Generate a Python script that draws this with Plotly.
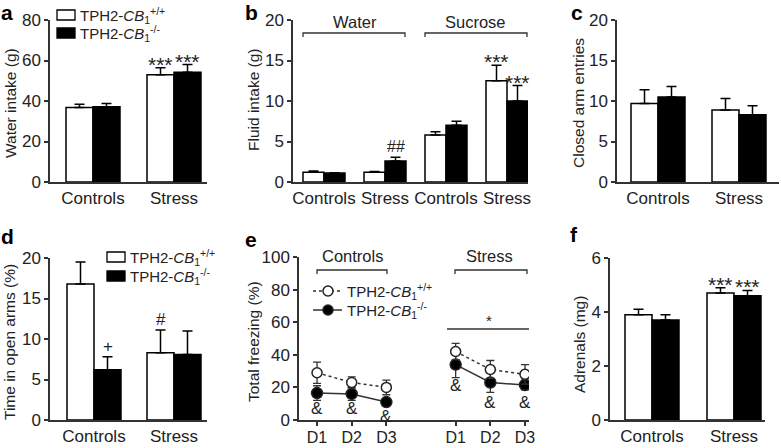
import plotly.graph_objects as go

W, H = 781, 448
FONT = "Liberation Sans, Arial, sans-serif"
TXT = "#222222"

# ---------------- data ----------------
groups = ["Controls", "Stress"]
# a: water intake (g)
a_wt = [36.8, 53.0]; a_wt_err = [1.6, 3.4]
a_ko = [37.2, 54.2]; a_ko_err = [1.6, 3.8]
# b: fluid intake (g)  water(ctrl, stress), sucrose(ctrl, stress)
b_cats = ["Controls", "Stress", "Controls", "Stress"]
b_wt = [1.2, 1.2, 5.8, 12.5]; b_wt_err = [0.15, 0.1, 0.4, 1.9]
b_ko = [1.1, 2.6, 7.0, 10.0]; b_ko_err = [0.05, 0.45, 0.5, 1.9]
# c: closed arm entries
c_wt = [9.7, 8.9]; c_wt_err = [1.7, 1.4]
c_ko = [10.5, 8.3]; c_ko_err = [1.3, 1.1]
# d: time in open arms (%)
d_wt = [16.8, 8.3]; d_wt_err = [2.7, 2.8]
d_ko = [6.2, 8.1]; d_ko_err = [1.6, 2.9]
# e: total freezing (%)
e_days = ["D1", "D2", "D3"]
e_ctrl_wt = [29, 23, 20]; e_ctrl_wt_err = [6.5, 3.5, 4.5]
e_ctrl_ko = [16.5, 16, 11]; e_ctrl_ko_err = [4.5, 4, 2]
e_str_wt = [42, 31, 28]; e_str_wt_err = [5, 5.5, 6]
e_str_ko = [34, 23, 21.5]; e_str_ko_err = [8, 6, 3]
# f: adrenals (mg)
f_wt = [3.9, 4.7]; f_wt_err = [0.2, 0.2]
f_ko = [3.7, 4.6]; f_ko_err = [0.2, 0.2]

WT_NAME = "TPH2-<i>CB</i><sub>1</sub><sup>+/+</sup>"
KO_NAME = "TPH2-<i>CB</i><sub>1</sub><sup>-/-</sup>"

TICK = 17
TITLE = 15.5
STAR = 21


def fx(p):
    return p / W


def fy(p):
    return 1 - p / H


fig = go.Figure()

panels = {
    "a": dict(x0=50, x1=207, yt=20, yb=182, centres=[93, 174], bw=27, yr=[0, 80], dt=20),
    "b": dict(x0=293, x1=528, yt=20, yb=182, centres=[324, 385, 445, 507], bw=21, yr=[0, 20], dt=5),
    "c": dict(x0=617, x1=779, yt=20, yb=182, centres=[658, 739], bw=27, yr=[0, 20], dt=5),
    "d": dict(x0=50, x1=207, yt=258, yb=420, centres=[94, 174], bw=27, yr=[0, 20], dt=5),
    "f": dict(x0=610, x1=765, yt=258, yb=420, centres=[652, 734], bw=27, yr=[0, 6], dt=2),
}
axis_ids = {"a": "", "b": "2", "c": "3", "d": "4", "e": "5", "f": "6"}

annotations = []
shapes = []


def ann(text, x, y, size=14, xref="paper", yref="paper", xanchor="center", yanchor="middle",
        angle=0, bold=False, yshift=0, color=TXT):
    if bold:
        text = "<b>" + text + "</b>"
    annotations.append(dict(text=text, x=x, y=y, xref=xref, yref=yref, xanchor=xanchor,
                            yanchor=yanchor, textangle=angle, showarrow=False, yshift=yshift,
                            font=dict(family=FONT, size=size, color=color)))


def axis_common():
    return dict(showline=True, linecolor="#333333", linewidth=1.5, showgrid=False, zeroline=False,
                automargin=False, tickfont=dict(family=FONT, size=TICK, color=TXT))


def bar_panel(key, cats, wt, wt_err, ko, ko_err):
    p = panels[key]
    aid = axis_ids[key]
    c = p["centres"]
    unit = (c[-1] - c[0]) / (len(c) - 1)
    lo = 1 - (c[0] - p["x0"]) / unit
    hi = len(c) + (p["x1"] - c[-1]) / unit
    w = p["bw"] / unit
    pos = list(range(1, len(c) + 1))
    xr = "x" + aid
    yr = "y" + aid
    for vals, errs, col, off in [(wt, wt_err, "white", -w / 2), (ko, ko_err, "black", w / 2)]:
        fig.add_trace(go.Bar(
            x=[q + off for q in pos], y=vals, width=w, xaxis=xr, yaxis=yr,
            marker=dict(color=col, line=dict(color="black", width=1.5)),
            error_y=dict(type="data", symmetric=False, array=errs, arrayminus=[0] * len(errs),
                         color="black", thickness=1.5, width=5),
            showlegend=False, hoverinfo="skip"))
    xa = axis_common()
    xa.update(domain=[fx(p["x0"]), fx(p["x1"])], range=[lo, hi], anchor=yr, tickvals=pos,
              ticktext=cats, ticks="")
    ya = axis_common()
    ya.update(domain=[fy(p["yb"]), fy(p["yt"])], range=p["yr"], anchor=xr, dtick=p["dt"],
              ticks="outside", ticklen=4, tickwidth=1.5, tickcolor="#333333")
    fig.layout["xaxis" + aid] = xa
    fig.layout["yaxis" + aid] = ya
    return pos, w


# ---- a ----
pos, w = bar_panel("a", groups, a_wt, a_wt_err, a_ko, a_ko_err)
ann("***", pos[1] - w / 2, a_wt[1] + a_wt_err[1], size=STAR, xref="x", yref="y", yanchor="bottom", yshift=-10)
ann("***", pos[1] + w / 2, a_ko[1] + a_ko_err[1], size=STAR, xref="x", yref="y", yanchor="bottom", yshift=-10)

# ---- b ----
pos, w = bar_panel("b", b_cats, b_wt, b_wt_err, b_ko, b_ko_err)
ann("##", pos[1] + w / 2, b_ko[1] + b_ko_err[1], size=16, xref="x2", yref="y2", yanchor="bottom", yshift=0)
ann("***", pos[3] - w / 2, b_wt[3] + b_wt_err[3], size=STAR, xref="x2", yref="y2", yanchor="bottom", yshift=-10)
ann("***", pos[3] + w / 2, b_ko[3] + b_ko_err[3], size=STAR, xref="x2", yref="y2", yanchor="bottom", yshift=-10)

# ---- c ----
bar_panel("c", groups, c_wt, c_wt_err, c_ko, c_ko_err)

# ---- d ----
pos, w = bar_panel("d", groups, d_wt, d_wt_err, d_ko, d_ko_err)
ann("+", pos[0] + w / 2, d_ko[0] + d_ko_err[0], size=17, xref="x4", yref="y4", yanchor="bottom", yshift=-1)
ann("#", pos[1] - w / 2, d_wt[1] + d_wt_err[1], size=17, xref="x4", yref="y4", yanchor="bottom", yshift=-1)

# ---- f ----
pos, w = bar_panel("f", groups, f_wt, f_wt_err, f_ko, f_ko_err)
ann("***", pos[1] - w / 2, f_wt[1] + f_wt_err[1], size=STAR, xref="x6", yref="y6", yanchor="bottom", yshift=-10)
ann("***", pos[1] + w / 2, f_ko[1] + f_ko_err[1], size=STAR, xref="x6", yref="y6", yanchor="bottom", yshift=-10)

# ---- e ----
ex0, ex1, eyt, eyb = 299, 529, 257, 420
e_ctrl_x = [1, 2, 3]
e_str_x = [5, 6, 7]
step = 34.6
e_lo = 1 - (317 - ex0) / step
e_hi = 7 + (ex1 - 525) / step
for xs, vals, errs, filled in [
    (e_ctrl_x, e_ctrl_ko, e_ctrl_ko_err, True), (e_str_x, e_str_ko, e_str_ko_err, True),
    (e_ctrl_x, e_ctrl_wt, e_ctrl_wt_err, False), (e_str_x, e_str_wt, e_str_wt_err, False)]:
    fig.add_trace(go.Scatter(
        x=xs, y=vals, xaxis="x5", yaxis="y5", mode="lines+markers",
        line=dict(color="#333333", width=1.5, dash="solid" if filled else "3px,3px"),
        marker=dict(symbol="circle", size=11 if filled else 10,
                    color="black" if filled else "white", line=dict(color="#222222", width=1.5)),
        error_y=dict(type="data", array=errs, color="#333333", thickness=1.3, width=4),
        showlegend=False, hoverinfo="skip"))
xa = axis_common()
xa.update(domain=[fx(ex0), fx(ex1)], range=[e_lo, e_hi], anchor="y5",
          tickvals=e_ctrl_x + e_str_x, ticktext=e_days + e_days, ticks="outside", ticklen=4,
          tickwidth=1.5, tickcolor="#333333", tickfont=dict(family=FONT, size=16, color=TXT),
          ticklabelstandoff=-2)
ya = axis_common()
ya.update(domain=[fy(eyb), fy(eyt)], range=[0, 100], anchor="x5", dtick=20, ticks="outside",
          ticklen=4, tickwidth=1.5, tickcolor="#333333")
fig.layout["xaxis5"] = xa
fig.layout["yaxis5"] = ya

amp_ctrl_y = [7, 7, 2]
for xv, yv in zip(e_ctrl_x, amp_ctrl_y):
    ann("&", xv, yv, size=17, xref="x5", yref="y5")
amp_str_y = [21, 11, 11]
for xv, yv in zip(e_str_x, amp_str_y):
    ann("&", xv, yv, size=17, xref="x5", yref="y5")


def bracket(x0, x1, y, drop=4):
    shapes.append(dict(type="path", xref="paper", yref="paper",
                       path=f"M {fx(x0)} {fy(y + drop)} L {fx(x0)} {fy(y)} L {fx(x1)} {fy(y)} L {fx(x1)} {fy(y + drop)}",
                       line=dict(color="#333333", width=1.3)))


bracket(303, 405, 33)
ann("Water", fx(355), fy(22), size=16.5)
bracket(425, 527, 33)
ann("Sucrose", fx(476), fy(22), size=16.5)
bracket(317, 387, 270)
ann("Controls", fx(352), fy(256), size=16.5)
bracket(455, 527, 270)
ann("Stress", fx(489), fy(256), size=16.5)
shapes.append(dict(type="line", xref="paper", yref="paper", x0=fx(447), x1=fx(529), y0=fy(329), y1=fy(329),
                   line=dict(color="#333333", width=1.3)))
ann("*", fx(489), fy(320), size=15)


def bar_legend(x, yw, yk):
    for yy, col in [(yw, "white"), (yk, "black")]:
        shapes.append(dict(type="rect", xref="paper", yref="paper", x0=fx(x), x1=fx(x + 18),
                           y0=fy(yy + 5), y1=fy(yy - 5), fillcolor=col, line=dict(color="black", width=1.3)))
    ann(WT_NAME, fx(x + 21), fy(yw), size=15, xanchor="left")
    ann(KO_NAME, fx(x + 21), fy(yk), size=15, xanchor="left")


bar_legend(57, 15, 33)
bar_legend(107, 257, 276)

for yy, filled in [(291, False), (310, True)]:
    shapes.append(dict(type="line", xref="paper", yref="paper", x0=fx(313), x1=fx(342), y0=fy(yy), y1=fy(yy),
                       line=dict(color="#333333", width=1.5, dash="solid" if filled else "dot")))
    r = 5
    shapes.append(dict(type="circle", xref="paper", yref="paper", x0=fx(328 - r), x1=fx(328 + r),
                       y0=fy(yy + r), y1=fy(yy - r), fillcolor="black" if filled else "white",
                       line=dict(color="#222222", width=1.5)))
ann(WT_NAME, fx(345), fy(291), size=15, xanchor="left")
ann(KO_NAME, fx(345), fy(310), size=15, xanchor="left")

ann("Water intake (g)", fx(10), fy(103), size=TITLE, angle=-90)
ann("Fluid intake (g)", fx(253), fy(100), size=TITLE, angle=-90)
ann("Closed arm entries", fx(578), fy(103), size=TITLE, angle=-90)
ann("Time in open arms (%)", fx(9), fy(342), size=TITLE, angle=-90)
ann("Total freezing (%)", fx(253), fy(342), size=TITLE, angle=-90)
ann("Adrenals (mg)", fx(579), fy(345), size=TITLE, angle=-90)

for t, x, y in [("a", 7, 12), ("b", 251, 12), ("c", 577, 12), ("d", 7, 237), ("e", 251, 239), ("f", 574, 234)]:
    ann(t, fx(x), fy(y), size=21, bold=True, color="black")

fig.update_layout(width=W, height=H, margin=dict(l=0, r=0, t=0, b=0, autoexpand=False),
                  paper_bgcolor="white", plot_bgcolor="white", barmode="overlay",
                  annotations=annotations, shapes=shapes, showlegend=False,
                  font=dict(family=FONT, color=TXT))
fig.write_html("out.html", config={"displayModeBar": False},
               post_script="document.body.style.margin='0px';document.body.style.overflow='hidden';")
